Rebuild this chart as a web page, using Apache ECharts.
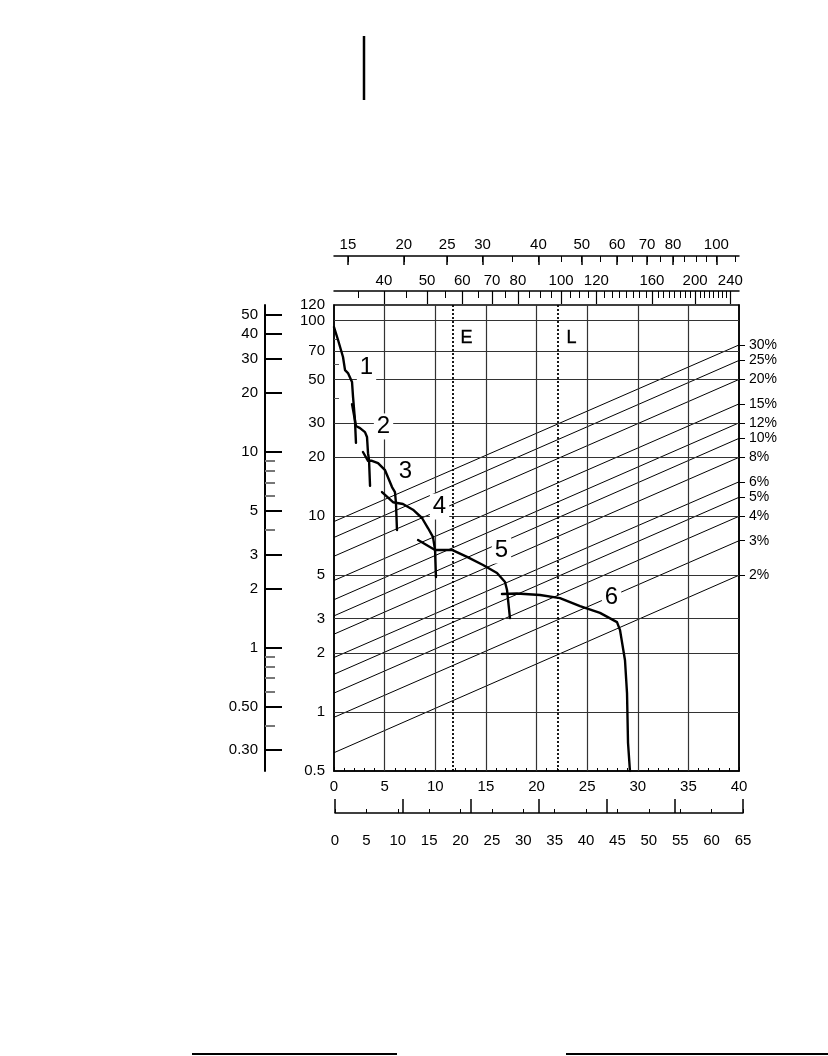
<!DOCTYPE html>
<html>
<head>
<meta charset="utf-8">
<script src="https://cdn.jsdelivr.net/npm/echarts@6/dist/echarts.min.js"></script>
<style>
html,body{margin:0;padding:0;background:#fff;}
#chart{width:828px;height:1056px;}
</style>
</head>
<body>
<div id="chart"></div>
<script>
// ---------- data ----------
const speedRange = [0, 40];                 // main speed axis (bottom)
const speedKmhRange = [0, 65];              // second bottom scale
const topScale1Range = [13.96, 112.4];
const topScale1Labels = [15, 20, 25, 30, 40, 50, 60, 70, 80, 100];
const topScale1Ticks = [15, 20, 25, 30, 35, 40, 45, 50, 55, 60, 65, 70, 75, 80, 85, 90, 95, 100, 110];
const topScale2Range = [30.9, 251];
const topScale2Labels = [40, 50, 60, 70, 80, 100, 120, 160, 200, 240];
const topScale2Ticks = [35, 40, 45, 50, 55, 60, 65, 70, 75, 80, 85, 90, 95, 100, 105, 110, 115, 120, 125, 130, 135, 140, 145, 150, 155, 160, 165, 170, 175, 180, 185, 190, 195, 200, 205, 210, 215, 220, 225, 230, 235, 240];

const forceRange = [0.5, 120];
const forceLabels = [120, 100, 70, 50, 30, 20, 10, 5, 3, 2, 1, 0.5];
const forceGridValues = [100, 70, 50, 30, 20, 10, 5, 3, 2, 1];
const forceMinorTicks = [80, 60, 40];
const speedGridValues = [5, 10, 15, 20, 25, 30, 35];

const leftScaleRange = [0.235, 56.3];
const leftScaleLabels = [50, 40, 30, 20, 10, 5, 3, 2, 1, 0.5, 0.3];
const leftScaleMinor = [9, 8, 7, 6, 4, 0.9, 0.8, 0.7, 0.6, 0.4];

const gradeLabels = ['30%', '25%', '20%', '15%', '12%', '10%', '8%', '6%', '5%', '4%', '3%', '2%'];
const gradeEnd   = [75, 62.5, 50, 37.5, 30, 25, 20, 15, 12.5, 10, 7.5, 5];
const gradeStart = [9.4, 7.8, 6.25, 4.7, 3.75, 3.1, 2.5, 1.9, 1.56, 1.25, 0.94, 0.62];

const gear1 = [[0, 92.6], [0.40, 79.5], [0.89, 65.1], [1.09, 55.8], [1.38, 53.9], [1.78, 48.5], [1.88, 40.7], [2.07, 31.0], [2.17, 23.7]];
const gear2 = [[1.78, 37.4], [2.17, 28.9], [2.57, 28.2], [3.06, 26.9], [3.26, 25.4], [3.36, 21.0], [3.46, 19.4], [3.56, 14.3]];
const gear3 = [[2.86, 21.3], [3.36, 19.2], [3.75, 19.2], [4.35, 18.7], [5.04, 17.2], [5.73, 14.1], [6.02, 13.3], [6.12, 11.7], [6.22, 8.51]];
const gear4 = [[4.74, 13.3], [5.83, 11.8], [6.81, 11.55], [7.80, 10.8], [8.69, 9.8], [9.28, 8.71], [9.78, 7.83], [9.98, 6.73], [10.07, 4.9]];
const gear5 = [[8.30, 7.56], [9.98, 6.73], [10.17, 6.65], [11.65, 6.73], [13.14, 6.2], [14.72, 5.64], [16.10, 5.13], [16.89, 4.62], [17.09, 4.2], [17.38, 3.02]];
const gear6 = [[16.59, 4.01], [18.07, 4.03], [20.35, 3.96], [22.32, 3.82], [24.30, 3.48], [26.27, 3.21], [27.95, 2.88], [28.25, 2.62], [28.74, 1.84], [28.94, 1.25], [29.04, 0.695], [29.23, 0.5]];
const gears = [gear1, gear2, gear3, gear4, gear5, gear6];
const gearNames = ['1', '2', '3', '4', '5', '6'];
const gearLabelPos = [[3.26, 57.2], [4.94, 28.6], [7.11, 16.8], [10.47, 11.15], [16.59, 6.65], [27.46, 3.82]];

const markerNames = ['E', 'L'];
const markerSpeeds = [11.75, 22.12];
const markerLabelPos = [[13.14, 81], [23.5, 81]];

// ---------- chart ----------
const FONT = '"Liberation Sans", Arial, Helvetica, sans-serif';
const black = '#000';
const chart = echarts.init(document.getElementById('chart'), null, {renderer: 'canvas'});

function numFmt(v) { return String(+(+v).toPrecision(6)); }

const option = {
  animation: false,
  backgroundColor: '#fff',
  textStyle: {fontFamily: FONT},
  grid: [
    {left: 334, right: 89, top: 305, bottom: 285, show: true, borderColor: black, borderWidth: 1.5, backgroundColor: 'transparent'},
    {left: 335, right: 85, top: 305, bottom: 285, show: false}
  ],
  xAxis: [
    { // 0 main speed
      gridIndex: 0, type: 'value', min: speedRange[0], max: speedRange[1], interval: 5, position: 'bottom',
      axisLine: {show: true, onZero: false, lineStyle: {color: black, width: 1.5}},
      axisTick: {show: true, inside: true, length: 4, lineStyle: {color: black}},
      minorTick: {show: true, splitNumber: 5, length: 3, lineStyle: {color: black}},
      splitLine: {show: false},
      axisLabel: {color: black, fontSize: 15, fontFamily: FONT, margin: 8}
    },
    { // 1 top scale 1 (major)
      gridIndex: 0, type: 'log', min: topScale1Range[0], max: topScale1Range[1], position: 'top', offset: 49,
      axisLine: {show: true, onZero: false, lineStyle: {color: black, width: 1.5}},
      axisTick: {show: true, inside: true, length: 9, customValues: topScale1Labels, lineStyle: {color: black, width: 1.5}},
      axisLabel: {show: true, customValues: topScale1Labels, formatter: numFmt, color: black, fontSize: 15, fontFamily: FONT, margin: 4},
      splitLine: {show: false}, minorTick: {show: false}
    },
    { // 2 top scale 1 (minor)
      gridIndex: 0, type: 'log', min: topScale1Range[0], max: topScale1Range[1], position: 'top', offset: 49,
      axisLine: {show: false, onZero: false},
      axisTick: {show: true, inside: true, length: 6, customValues: topScale1Ticks, lineStyle: {color: black, width: 1}},
      axisLabel: {show: false}, splitLine: {show: false}
    },
    { // 3 top scale 2 (major)
      gridIndex: 0, type: 'log', min: topScale2Range[0], max: topScale2Range[1], position: 'top', offset: 14,
      axisLine: {show: true, onZero: false, lineStyle: {color: black, width: 1.5}},
      axisTick: {show: true, inside: true, length: 13, customValues: topScale2Labels, lineStyle: {color: black, width: 1.2}},
      axisLabel: {show: true, customValues: topScale2Labels, formatter: numFmt, color: black, fontSize: 15, fontFamily: FONT, margin: 3},
      splitLine: {show: false}
    },
    { // 4 top scale 2 (minor)
      gridIndex: 0, type: 'log', min: topScale2Range[0], max: topScale2Range[1], position: 'top', offset: 14,
      axisLine: {show: false, onZero: false},
      axisTick: {show: true, inside: true, length: 7, customValues: topScale2Ticks, lineStyle: {color: black, width: 1}},
      axisLabel: {show: false}, splitLine: {show: false}
    },
    { // 5 km/h scale (labels + minor ticks)
      gridIndex: 1, type: 'value', min: speedKmhRange[0], max: speedKmhRange[1], interval: 5, position: 'bottom', offset: 42,
      axisLine: {show: true, onZero: false, lineStyle: {color: black, width: 1.5}},
      axisTick: {show: true, inside: true, length: 4, lineStyle: {color: black}},
      axisLabel: {color: black, fontSize: 15, fontFamily: FONT, margin: 20},
      splitLine: {show: false}
    },
    { // 6 km/h scale major ticks
      gridIndex: 1, type: 'value', min: 0, max: 60, interval: 10, position: 'bottom', offset: 42,
      axisLine: {show: false, onZero: false},
      axisTick: {show: true, inside: true, length: 14, lineStyle: {color: black, width: 1.5}},
      axisLabel: {show: false}, splitLine: {show: false}
    }
  ],
  yAxis: [
    { // 0 main force
      gridIndex: 0, type: 'log', min: forceRange[0], max: forceRange[1], position: 'left',
      axisLine: {show: true, onZero: false, lineStyle: {color: black, width: 1.5}},
      axisTick: {show: true, inside: true, length: 5, customValues: forceMinorTicks, lineStyle: {color: '#555'}},
      axisLabel: {customValues: forceLabels, formatter: numFmt, color: black, fontSize: 15, fontFamily: FONT, margin: 9},
      splitLine: {show: false}
    },
    { // 1 grade scale (right)
      gridIndex: 0, type: 'log', min: forceRange[0], max: forceRange[1], position: 'right',
      axisLine: {show: true, onZero: false, lineStyle: {color: black, width: 1.5}},
      axisTick: {show: true, inside: false, length: 6, customValues: gradeEnd, lineStyle: {color: black}},
      axisLabel: {customValues: gradeEnd, color: black, fontSize: 14, fontFamily: FONT, margin: 10,
        formatter: function (v) {
          const i = gradeEnd.findIndex(g => Math.abs(g - v) < 1e-6 * g);
          return i >= 0 ? gradeLabels[i] : '';
        }},
      splitLine: {show: false}
    },
    { // 2 left outer scale
      gridIndex: 0, type: 'log', min: leftScaleRange[0], max: leftScaleRange[1], position: 'left', offset: 69,
      axisLine: {show: true, onZero: false, lineStyle: {color: black, width: 2}},
      axisTick: {show: true, inside: true, length: 17, customValues: leftScaleLabels, lineStyle: {color: black, width: 2}},
      axisLabel: {customValues: leftScaleLabels, color: black, fontSize: 15, fontFamily: FONT, margin: 7,
        formatter: function (v) { return v < 1 ? (+v).toFixed(2) : numFmt(v); }},
      splitLine: {show: false}
    },
    { // 3 left outer minor ticks
      gridIndex: 0, type: 'log', min: leftScaleRange[0], max: leftScaleRange[1], position: 'left', offset: 69,
      axisLine: {show: false, onZero: false},
      axisTick: {show: true, inside: true, length: 10, customValues: leftScaleMinor, lineStyle: {color: '#777', width: 2}},
      axisLabel: {show: false}, splitLine: {show: false}
    },
    { // 4 dummy for grid 1
      gridIndex: 1, type: 'value', min: 0, max: 1, show: false
    }
  ],
  graphic: [
    {type: 'line', shape: {x1: 364, y1: 36, x2: 364, y2: 100}, style: {stroke: black, lineWidth: 2.5}},
    {type: 'line', shape: {x1: 192, y1: 1054, x2: 397, y2: 1054}, style: {stroke: black, lineWidth: 2}},
    {type: 'line', shape: {x1: 566, y1: 1054, x2: 828, y2: 1054}, style: {stroke: black, lineWidth: 2}}
  ],
  series: []
};

// grid lines (through the axes' scales)
option.series.push({
  type: 'line', xAxisIndex: 0, yAxisIndex: 0, data: [], silent: true, z: 1,
  markLine: {
    silent: true, symbol: ['none', 'none'], label: {show: false}, animation: false,
    lineStyle: {color: '#333', width: 1.2, type: 'solid'},
    data: forceGridValues.map(v => ({yAxis: v})).concat(speedGridValues.map(v => ({xAxis: v})))
  }
});
// E / L dotted lines
option.series.push({
  type: 'line', xAxisIndex: 0, yAxisIndex: 0, data: [], silent: true, z: 2,
  markLine: {
    silent: true, symbol: ['none', 'none'], label: {show: false}, animation: false,
    lineStyle: {color: black, width: 1.8, type: [2, 2]},
    data: markerSpeeds.map(v => ({xAxis: v}))
  }
});
// grade resistance lines
gradeLabels.forEach((g, i) => {
  option.series.push({
    type: 'line', name: g, xAxisIndex: 0, yAxisIndex: 0, z: 3, silent: true,
    showSymbol: false, symbol: 'none',
    lineStyle: {color: black, width: 1},
    data: [[speedRange[0], gradeStart[i]], [speedRange[1], gradeEnd[i]]]
  });
});
// gear curves
gears.forEach((g, i) => {
  option.series.push({
    type: 'line', name: 'gear ' + gearNames[i], xAxisIndex: 0, yAxisIndex: 0, z: 6, silent: true,
    showSymbol: false, symbol: 'none',
    lineStyle: {color: black, width: 2.4, join: 'round', cap: 'round'},
    data: g
  });
});
// gear labels
option.series.push({
  type: 'scatter', xAxisIndex: 0, yAxisIndex: 0, z: 8, silent: true, symbolSize: 1,
  itemStyle: {color: 'rgba(0,0,0,0)'},
  label: {show: true, position: [0, 0], align: 'center', verticalAlign: 'middle', formatter: '{b}',
    color: '#000', opacity: 1, textBorderWidth: 0, fontSize: 24, fontFamily: FONT,
    backgroundColor: '#fff', padding: [1, 3]},
  data: gearNames.map((n, i) => ({name: n, value: gearLabelPos[i]}))
});
// E / L labels
option.series.push({
  type: 'scatter', xAxisIndex: 0, yAxisIndex: 0, z: 8, silent: true, symbolSize: 1,
  itemStyle: {color: 'rgba(0,0,0,0)'},
  label: {show: true, position: [0, 0], align: 'center', verticalAlign: 'middle', formatter: '{b}',
    color: '#000', opacity: 1, textBorderColor: '#000', textBorderWidth: 0.4, fontSize: 18, fontFamily: FONT},
  data: markerNames.map((n, i) => ({name: n, value: markerLabelPos[i]}))
});

chart.setOption(option);
</script>
</body>
</html>
